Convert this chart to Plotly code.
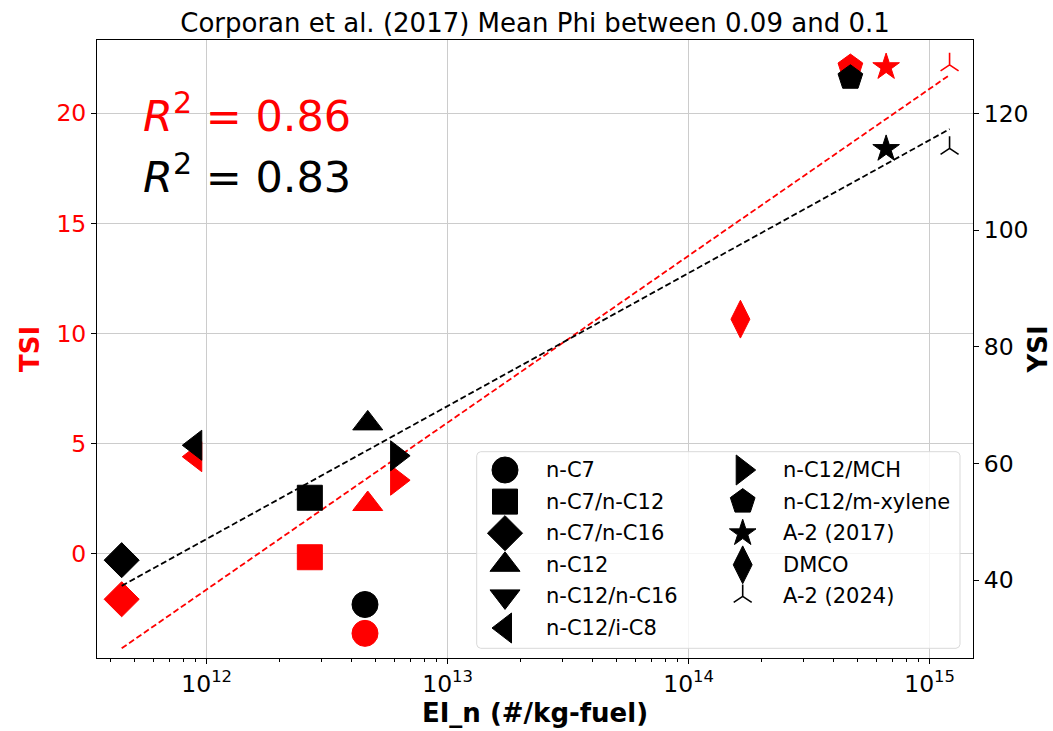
import plotly.graph_objects as go

# ---------------- data ----------------
fuels = ["n-C7", "n-C7/n-C12", "n-C7/n-C16", "n-C12", "n-C12/n-C16", "n-C12/i-C8",
         "n-C12/MCH", "n-C12/m-xylene", "A-2 (2017)", "DMCO", "A-2 (2024)"]
ei_n = [4.54e12, 2.68e12, 4.44e11, 4.66e12, None, 8.97e11,
        6.17e12, 4.69e14, 6.6e14, 1.64e14, 1.21e15]
tsi = [-3.64, -0.18, -2.09, 2.24, None, 4.39, 3.32, 22.1, 22.1, 10.64, 22.2]
ysi = [35.8, 54.1, 43.4, 66.85, None, 63.1, 61.3, 126.1, 113.9, None, 114.0]

fit_ei_n = [4.44e11, 1.21e15]
tsi_fit = [-4.32, 21.74]
ysi_fit = [39.0, 117.3]
r2_tsi = 0.86
r2_ysi = 0.83

x_tick_vals = [1e12, 1e13, 1e14, 1e15]
x_tick_text = ["10<sup>12</sup>", "10<sup>13</sup>", "10<sup>14</sup>", "10<sup>15</sup>"]
tsi_ticks = [0, 5, 10, 15, 20]
ysi_ticks = [40, 60, 80, 100, 120]

title_text = "Corporan et al. (2017) Mean Phi between 0.09 and 0.1"

# ---------------- styles ----------------
symbol_of = {"n-C7": "circle", "n-C7/n-C12": "square", "n-C7/n-C16": "diamond",
             "n-C12": "triangle-up", "n-C12/n-C16": "triangle-down",
             "n-C12/i-C8": "triangle-left", "n-C12/MCH": "triangle-right",
             "n-C12/m-xylene": "pentagon", "A-2 (2017)": "star", "DMCO": "diamond-tall",
             "A-2 (2024)": "y-up"}
size_of = {"circle": 26, "square": 25, "diamond": 27, "triangle-up": 26,
           "triangle-down": 26, "triangle-left": 26, "triangle-right": 26,
           "pentagon": 26, "star": 20, "diamond-tall": 27, "y-up": 15}

W, H = 1053, 731
L, R, T, B = 97, 973, 40, 658
X_RANGE = [11.545, 15.18]
TSI_RANGE = [-4.76, 23.33]
YSI_RANGE = [26.63, 132.57]
FONT = "DejaVu Sans"


def px_to_paper(px, py):
    return (px - L) / (R - L), (B - py) / (B - T)


def marker(sym, color):
    lw = 1.6 if sym == "y-up" else 1
    return dict(symbol=sym, size=size_of[sym], color=color, opacity=1,
                line=dict(color=color, width=lw))


fig = go.Figure()

# TSI (left axis, red)
for f, x, v in zip(fuels, ei_n, tsi):
    if x is None or v is None:
        continue
    fig.add_trace(go.Scatter(x=[x], y=[v], mode="markers", name=f,
                             marker=marker(symbol_of[f], "red"),
                             xaxis="x", yaxis="y", showlegend=False))
fig.add_trace(go.Scatter(x=fit_ei_n, y=tsi_fit, mode="lines", name="TSI fit",
                         line=dict(color="red", width=1.8, dash="6px,3px"),
                         xaxis="x", yaxis="y", showlegend=False))

# YSI (right axis, black)
for f, x, v in zip(fuels, ei_n, ysi):
    if x is None or v is None:
        continue
    fig.add_trace(go.Scatter(x=[x], y=[v], mode="markers", name=f,
                             marker=marker(symbol_of[f], "black"),
                             xaxis="x", yaxis="y2", showlegend=False))
fig.add_trace(go.Scatter(x=fit_ei_n, y=ysi_fit, mode="lines", name="YSI fit",
                         line=dict(color="black", width=1.8, dash="6px,3px"),
                         xaxis="x", yaxis="y2", showlegend=False))

# ---------------- legend (two columns, on a pixel-scaled helper axis) ----------------
x0, x1, y0, y1, rr = 476.7, 960, 451.7, 648.3, 4
box_x = [x0 + rr, x1 - rr, x1 - rr * 0.3, x1, x1, x1 - rr * 0.3, x1 - rr, x0 + rr,
         x0 + rr * 0.3, x0, x0, x0 + rr * 0.3, x0 + rr]
box_y = [y0, y0, y0 + rr * 0.3, y0 + rr, y1 - rr, y1 - rr * 0.3, y1, y1,
         y1 - rr * 0.3, y1 - rr, y0 + rr, y0 + rr * 0.3, y0]
fig.add_trace(go.Scatter(x=box_x, y=box_y, mode="lines", fill="toself",
                         fillcolor="rgba(255,255,255,0.8)",
                         line=dict(color="#d9d9d9", width=1),
                         xaxis="x2", yaxis="y3", showlegend=False, hoverinfo="skip"))

col_x = [505, 742.7]
text_x = [544, 781]
row0, row_step = 470, 31.6
leg_x, leg_y, leg_sym, leg_size, leg_lw = [], [], [], [], []
annotations = []
for i, f in enumerate(fuels):
    c, r = (0, i) if i < 6 else (1, i - 6)
    yy = row0 + r * row_step
    sym = symbol_of[f]
    leg_x.append(col_x[c])
    leg_y.append(yy)
    leg_sym.append(sym)
    leg_size.append(size_of[sym])
    leg_lw.append(1.6 if sym == "y-up" else 1)
    ax_, ay_ = px_to_paper(text_x[c], yy)
    annotations.append(dict(x=ax_, y=ay_, xref="paper", yref="paper", text=f,
                            showarrow=False, xanchor="left", yanchor="middle",
                            font=dict(family=FONT, size=21, color="black")))
fig.add_trace(go.Scatter(x=leg_x, y=leg_y, mode="markers", xaxis="x2", yaxis="y3",
                         marker=dict(symbol=leg_sym, size=leg_size, color="black",
                                     opacity=1,
                                     line=dict(color="black", width=leg_lw)),
                         showlegend=False, hoverinfo="skip"))

# R^2 annotations
for txt, py, col in [(f"<i>R</i><sup>2</sup> = {r2_tsi:.2f}", 113, "red"),
                     (f"<i>R</i><sup>2</sup> = {r2_ysi:.2f}", 174, "black")]:
    ax_, ay_ = px_to_paper(141, py)
    annotations.append(dict(x=ax_, y=ay_, xref="paper", yref="paper", text=txt,
                            showarrow=False, xanchor="left", yanchor="middle",
                            font=dict(family=FONT, size=43, color=col)))

lo, hi = 10 ** X_RANGE[0], 10 ** X_RANGE[1]
minor_vals = [m * 10 ** e for e in range(11, 16) for m in range(2, 10)
              if lo <= m * 10 ** e <= hi]

fig.update_layout(
    width=W, height=H,
    margin=dict(l=L, r=W - R, t=T, b=H - B, pad=0),
    paper_bgcolor="white", plot_bgcolor="white",
    font=dict(family=FONT, color="black"),
    showlegend=False,
    title=dict(text=title_text, x=0.5, xref="paper", xanchor="center",
               y=1 - 23 / H, yref="container", yanchor="middle",
               font=dict(family=FONT, size=26, color="black")),
    xaxis=dict(type="log", range=X_RANGE, tickmode="array", tickvals=x_tick_vals,
               ticktext=x_tick_text, ticks="outside", ticklen=5, tickwidth=1,
               tickcolor="black", showline=True, linecolor="black", linewidth=1,
               mirror=True, showgrid=True, gridcolor="#cccccc", gridwidth=1,
               zeroline=False, tickfont=dict(size=23.5, color="black"),
               automargin=False,
               title=dict(text="<b>EI_n (#/kg-fuel)</b>", font=dict(size=26), standoff=3),
               minor=dict(ticks="outside", ticklen=3, tickwidth=1, tickcolor="black",
                          tickmode="array", tickvals=minor_vals, showgrid=False)),
    yaxis=dict(range=TSI_RANGE, tickmode="array", tickvals=tsi_ticks,
               ticks="outside", ticklen=5, tickwidth=1, tickcolor="black",
               showline=True, linecolor="black", linewidth=1, showgrid=True,
               gridcolor="#cccccc", gridwidth=1, zeroline=False,
               tickfont=dict(size=23.5, color="red"), automargin=False,
               title=dict(text="<b>TSI</b>", font=dict(size=26, color="red"), standoff=9)),
    yaxis2=dict(range=YSI_RANGE, overlaying="y", side="right", anchor="x",
                tickmode="array", tickvals=ysi_ticks, ticks="outside", ticklen=5,
                tickwidth=1, tickcolor="black", showline=True, linecolor="black",
                linewidth=1, showgrid=False, zeroline=False,
                tickfont=dict(size=23.5, color="black"), automargin=False,
                title=dict(text="<b>YSI</b>", font=dict(size=26, color="black"), standoff=1)),
    xaxis2=dict(overlaying="x", anchor="y3", range=[L, R], visible=False,
                fixedrange=True),
    yaxis3=dict(overlaying="y", anchor="x2", range=[B, T], visible=False,
                fixedrange=True),
    annotations=annotations,
)

fig.write_html("out.html")
